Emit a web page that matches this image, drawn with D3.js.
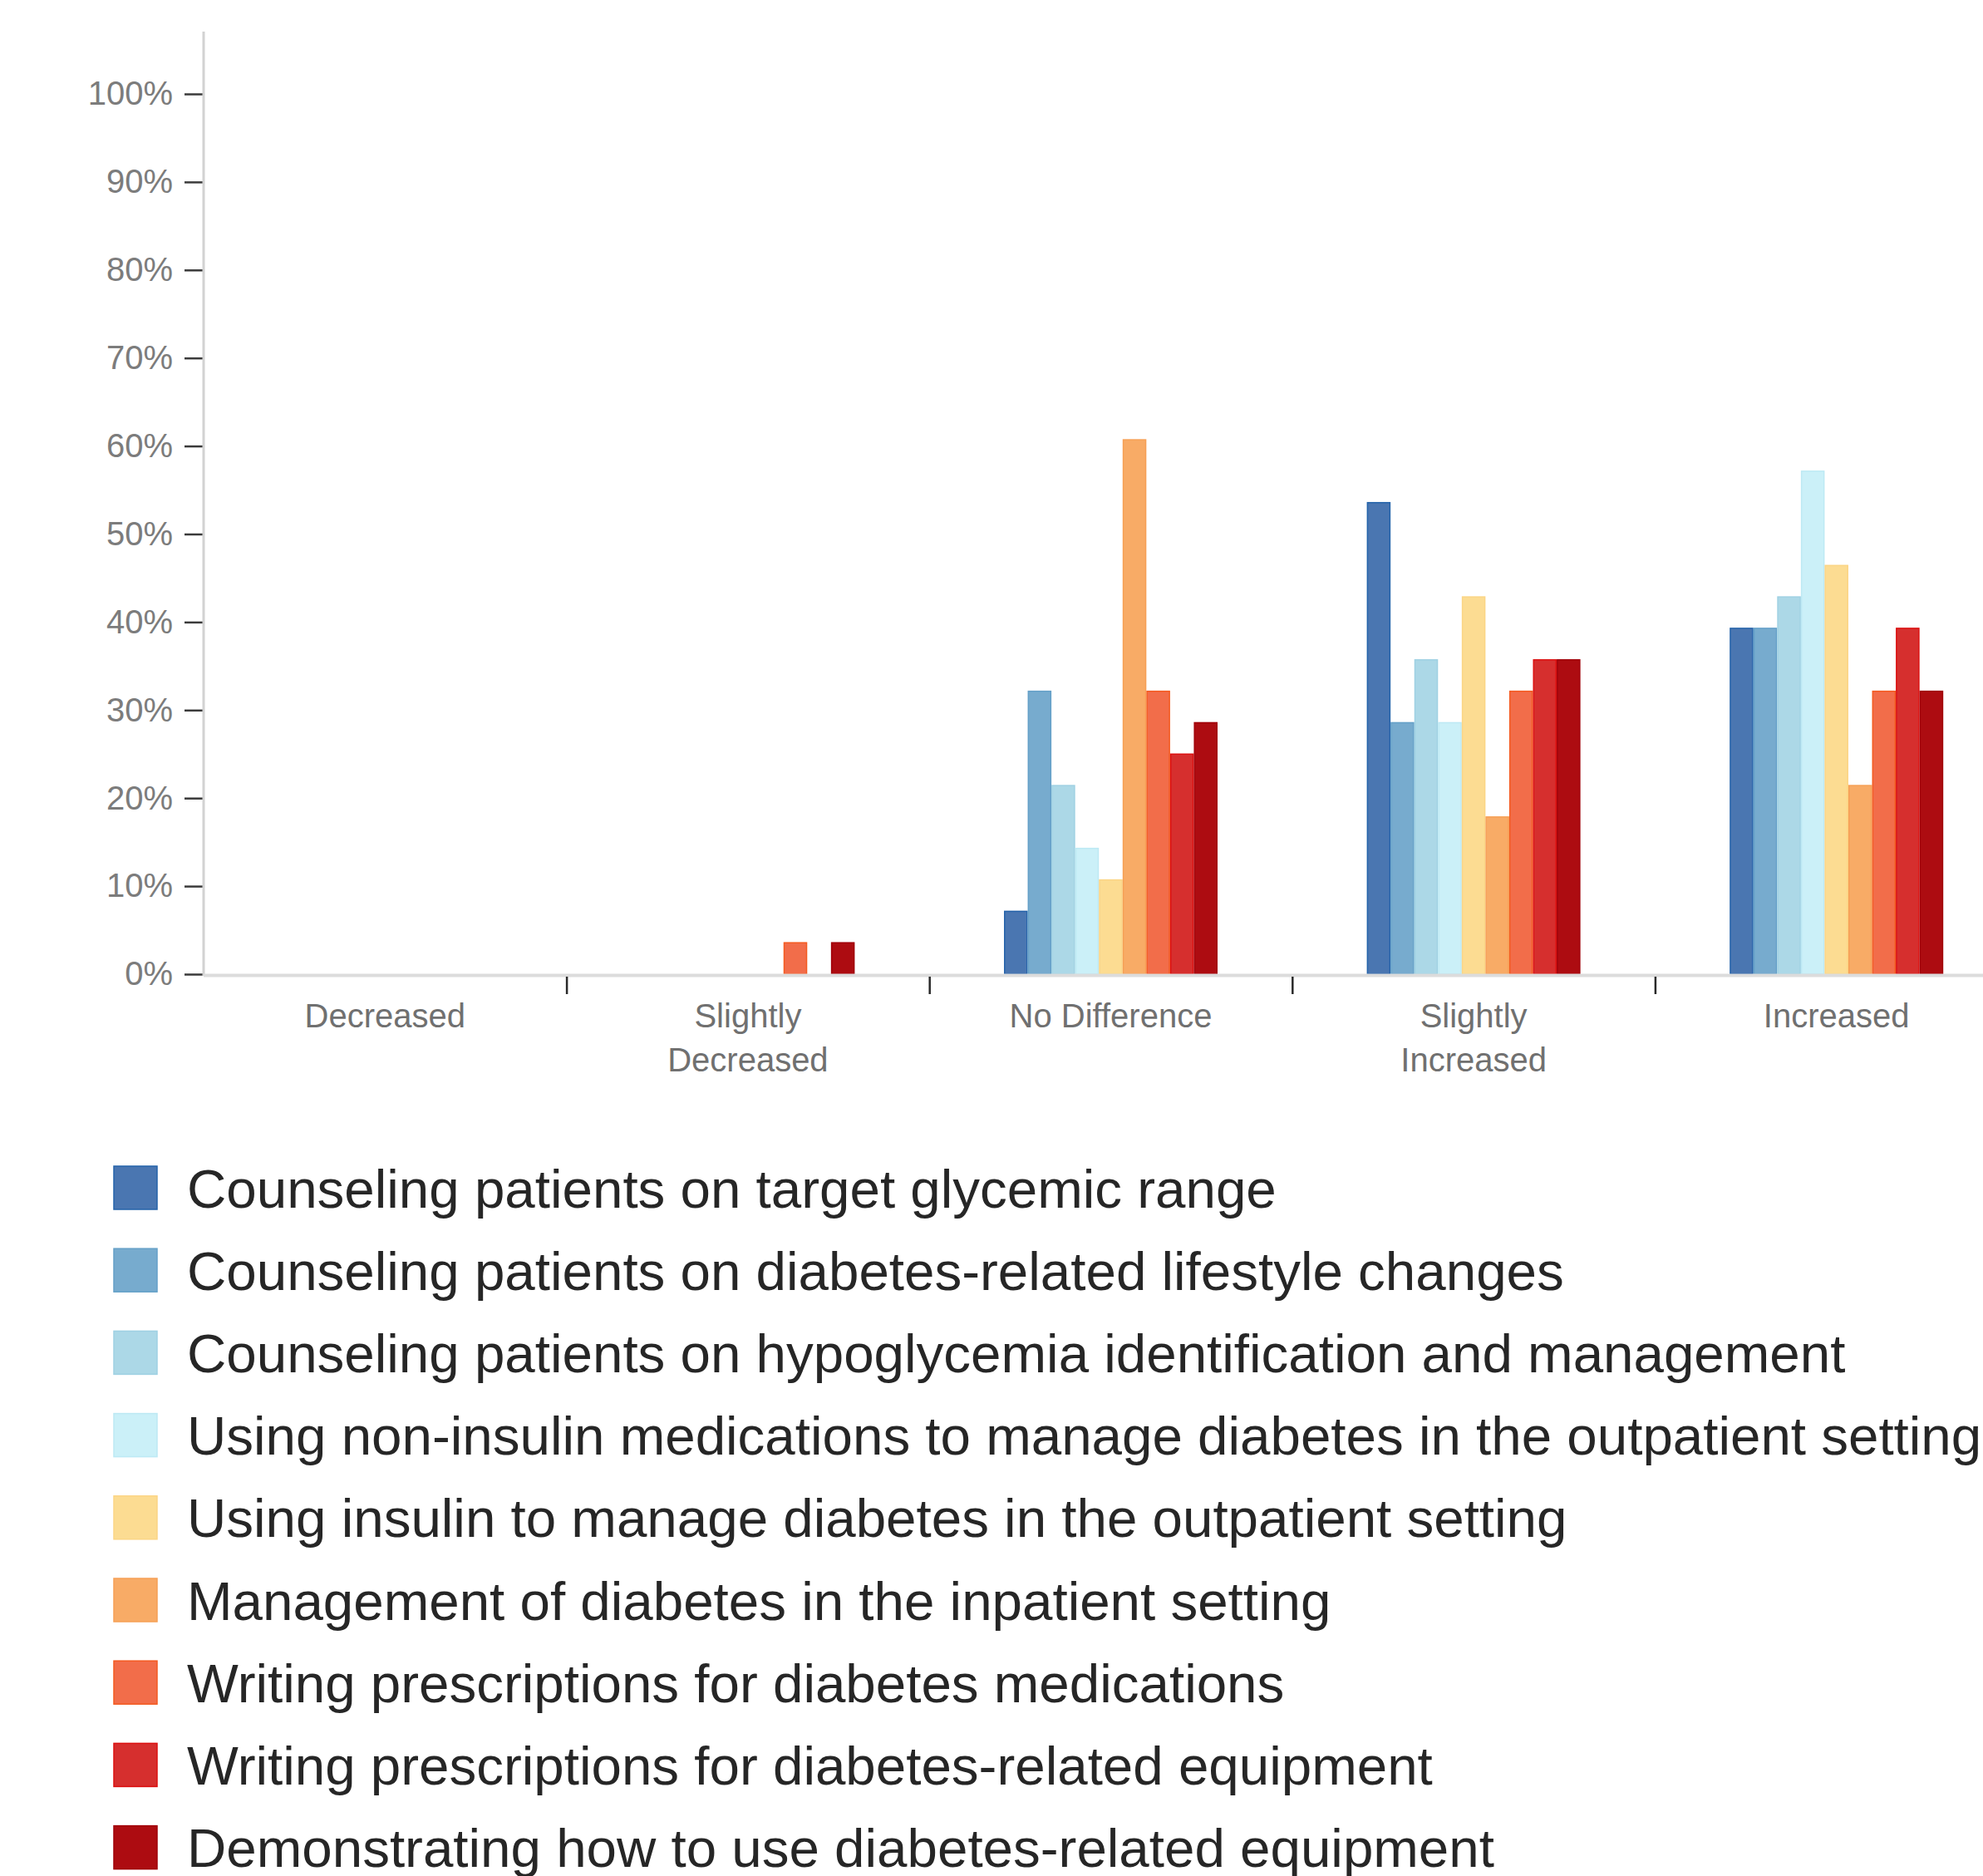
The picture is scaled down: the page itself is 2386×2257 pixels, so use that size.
<!DOCTYPE html>
<html>
<head>
<meta charset="utf-8">
<script src="https://cdn.jsdelivr.net/npm/d3@7"></script>
<style>
  html, body { margin: 0; padding: 0; background: #ffffff; }
  svg { display: block; }
  text { font-family: "Liberation Sans", Arial, sans-serif; }
</style>
</head>
<body>
<svg id="chart" width="2386" height="2257"></svg>
<script>
// ---------------- data ----------------
const categories = ["Decreased", "Slightly Decreased", "No Difference", "Slightly Increased", "Increased"];
const categoryLabelLines = [["Decreased"], ["Slightly", "Decreased"], ["No Difference"], ["Slightly", "Increased"], ["Increased"]];

const seriesNames = [
  "Counseling patients on target glycemic range",
  "Counseling patients on diabetes-related lifestyle changes",
  "Counseling patients on hypoglycemia identification and management",
  "Using non-insulin medications to manage diabetes in the outpatient setting",
  "Using insulin to manage diabetes in the outpatient setting",
  "Management of diabetes in the inpatient setting",
  "Writing prescriptions for diabetes medications",
  "Writing prescriptions for diabetes-related equipment",
  "Demonstrating how to use diabetes-related equipment"
];

// percentage per category (Decreased, Slightly Decreased, No Difference, Slightly Increased, Increased)
const glycemicRange      = [0, 0,    7.14, 53.57, 39.29];
const lifestyleChanges   = [0, 0,   32.14, 28.57, 39.29];
const hypoglycemia       = [0, 0,   21.43, 35.71, 42.86];
const nonInsulinMeds     = [0, 0,   14.29, 28.57, 57.14];
const insulinOutpatient  = [0, 0,   10.71, 42.86, 46.43];
const inpatientMgmt      = [0, 0,   60.71, 17.86, 21.43];
const rxMedications      = [0, 3.57, 32.14, 32.14, 32.14];
const rxEquipment        = [0, 0,   25.00, 35.71, 39.29];
const demoEquipment      = [0, 3.57, 28.57, 35.71, 32.14];

const seriesValues = [glycemicRange, lifestyleChanges, hypoglycemia, nonInsulinMeds,
  insulinOutpatient, inpatientMgmt, rxMedications, rxEquipment, demoEquipment];

const yTickValues = [0, 10, 20, 30, 40, 50, 60, 70, 80, 90, 100];
const yTickLabels = ["0%", "10%", "20%", "30%", "40%", "50%", "60%", "70%", "80%", "90%", "100%"];

// ---------------- styles ----------------
const fillColors   = ["#4a76b1", "#77abce", "#acd8e7", "#cbf0f8", "#fcdc92", "#f8ab66", "#f26d4a", "#d62f2e", "#ad0c11"];
const strokeColors = ["#2463aa", "#64a0c8", "#9fd1e3", "#bde9f4", "#fbd585", "#f6a055", "#f45a20", "#dc1010", "#a00008"];

// ---------------- layout ----------------
const svg = d3.select("#chart");
const plotLeft = 245, baseY = 1172, topY = 113, axisTop = 38;
const bandW = 436.6;

const x0 = d3.scaleBand().domain(categories).range([plotLeft, plotLeft + bandW * categories.length]).padding(0);
const groupW = 257;
const x1 = d3.scaleBand().domain(d3.range(seriesNames.length))
  .range([(x0.bandwidth() - groupW) / 2, (x0.bandwidth() + groupW) / 2]).padding(0);
const y = d3.scaleLinear().domain([0, 100]).range([baseY, topY]);

// bars
const groups = svg.append("g").selectAll("g")
  .data(categories)
  .join("g")
  .attr("transform", d => `translate(${x0(d)},0)`);

groups.selectAll("rect")
  .data((c, ci) => seriesValues.map((vals, si) => ({ si, v: vals[ci] })).filter(o => o.v > 0))
  .join("rect")
  .attr("x", d => x1(d.si) + 0.75)
  .attr("width", x1.bandwidth() - 1.5)
  .attr("y", d => y(d.v))
  .attr("height", d => baseY - y(d.v))
  .attr("fill", d => fillColors[d.si])
  .attr("stroke", d => strokeColors[d.si])
  .attr("stroke-width", 1.5);

// y axis
const yAxis = svg.append("g")
  .attr("transform", `translate(${plotLeft},0)`)
  .call(d3.axisLeft(y).tickValues(yTickValues).tickFormat((d, i) => yTickLabels[i]).tickSize(23).tickPadding(14));
yAxis.select(".domain").remove();
yAxis.selectAll(".tick line").attr("stroke", "#3a3a3a").attr("stroke-width", 2.5);
yAxis.selectAll(".tick text").attr("fill", "#7c7c7c").attr("font-size", 40)
  .attr("font-family", "'Liberation Sans', Arial, sans-serif");
svg.append("line").attr("x1", plotLeft).attr("x2", plotLeft).attr("y1", axisTop).attr("y2", baseY + 2)
  .attr("stroke", "#d2d2d2").attr("stroke-width", 3);

// x axis line
svg.append("line").attr("x1", plotLeft).attr("x2", 2386).attr("y1", baseY + 1.5).attr("y2", baseY + 1.5)
  .attr("stroke", "#dcdcdc").attr("stroke-width", 4);

// boundary ticks between categories
const boundary = d3.scaleLinear().domain([0, categories.length]).range([plotLeft, plotLeft + bandW * categories.length]);
const xTicks = svg.append("g")
  .attr("transform", `translate(0,${baseY + 3})`)
  .call(d3.axisBottom(boundary).tickValues([1, 2, 3, 4]).tickFormat("").tickSize(21));
xTicks.select(".domain").remove();
xTicks.selectAll(".tick line").attr("stroke", "#2a2a2a").attr("stroke-width", 2.5);

// category labels
const xLab = svg.append("g")
  .attr("transform", `translate(0,${baseY})`)
  .call(d3.axisBottom(x0).tickSize(0).tickFormat(""));
xLab.select(".domain").remove();
xLab.selectAll(".tick").each(function (d, i) {
  const t = d3.select(this).append("text")
    .attr("fill", "#707070").attr("font-size", 40).attr("text-anchor", "middle")
    .attr("font-family", "'Liberation Sans', Arial, sans-serif");
  categoryLabelLines[i].forEach((line, li) => {
    t.append("tspan").attr("x", 0).attr("y", 64 + li * 53).text(line);
  });
});

// legend
const legendX = 137, legendY0 = 1429, legendStep = 99.2, sq = 52;
const legend = svg.append("g").selectAll("g")
  .data(seriesNames)
  .join("g")
  .attr("transform", (d, i) => `translate(${legendX},${legendY0 + i * legendStep})`);
legend.append("rect")
  .attr("x", 0).attr("y", -sq / 2).attr("width", sq).attr("height", sq)
  .attr("fill", (d, i) => fillColors[i])
  .attr("stroke", (d, i) => strokeColors[i]).attr("stroke-width", 1.5);
legend.append("text")
  .attr("x", 88).attr("y", 0).attr("dy", "0.36em")
  .attr("fill", "#262626").attr("font-size", 65.5)
  .text(d => d);
</script>
</body>
</html>
